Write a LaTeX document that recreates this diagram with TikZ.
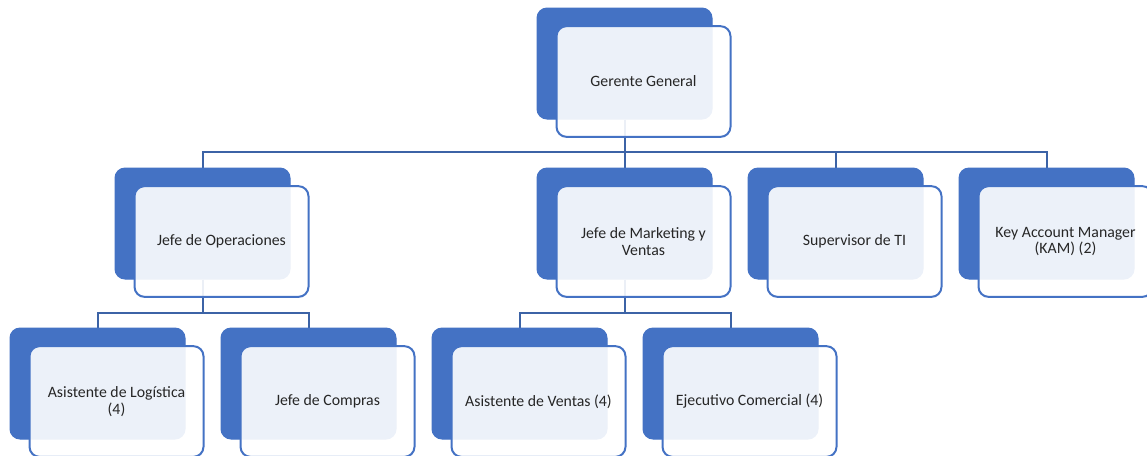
\documentclass[tikz,border=0pt]{standalone}
\usepackage{fontspec}
\setmainfont{Carlito}
\usepackage{tikz}
\usetikzlibrary{backgrounds}

\definecolor{cardblue}{HTML}{4472C4}
\definecolor{linkblue}{HTML}{3C63A6}
\definecolor{inktext}{HTML}{262626}

\begin{document}
\begin{tikzpicture}[x=0.75pt, y=-0.75pt,
    back/.style={rectangle, rounded corners=7.5pt, fill=cardblue, draw=cardblue,
      line width=0.75pt, minimum width=131.25pt, minimum height=83.25pt, inner sep=0pt},
    card/.style={rectangle, rounded corners=7.5pt, fill=white, fill opacity=0.9,
      text opacity=1, draw=cardblue, draw opacity=1, line width=1.5pt,
      minimum width=130.5pt, minimum height=83pt, inner sep=0pt, align=center,
      text=inktext, font=\fontsize{11.85pt}{12.5pt}\selectfont},
    link/.style={draw=linkblue, line width=1.5pt}]
    \useasboundingbox (0,0) rectangle (1147,455);
    \clip (0,0) rectangle (1147,455);

    % blue block behind, light card in front (shifted down right)
    \foreach \name/\x/\y/\label in {
        gg/624.5/63.5/{Gerente General},
        ops/202.5/223.5/{Jefe de Operaciones},
        mkt/624.5/223.5/{Jefe de Marketing y\\Ventas},
        ti/835.5/223.5/{Supervisor de TI},
        kam/1046.5/223.5/{Key Account Manager\\(KAM) (2)},
        log/97.5/383.5/{Asistente de Logística\\(4)},
        com/308.5/383.5/{Jefe de Compras},
        av/519.5/383.5/{Asistente de Ventas (4)},
        ec/730.5/383.5/{Ejecutivo Comercial (4)}} {
        \node[back] (\name-b) at (\x, \y) {};
        \node[card] (\name) at ([shift={(19,18)}]\name-b.center) {\label};
    }

    % connectors, under the cards
    \begin{scope}[on background layer]
        \coordinate (bus-top) at (624.5, 152);
        \coordinate (bus-ops) at (202.5, 313);
        \coordinate (bus-mkt) at (624.5, 313);
        \draw[link] (gg-b.south) -- (bus-top);
        \foreach \n in {ops, mkt, ti, kam}
            \draw[link] (\n-b.north) |- (bus-top);
        \draw[link] (ops-b.south) -- (bus-ops);
        \foreach \n in {log, com}
            \draw[link] (\n-b.north) |- (bus-ops);
        \draw[link] (mkt-b.south) -- (bus-mkt);
        \foreach \n in {av, ec}
            \draw[link] (\n-b.north) |- (bus-mkt);
    \end{scope}
\end{tikzpicture}
\end{document}
